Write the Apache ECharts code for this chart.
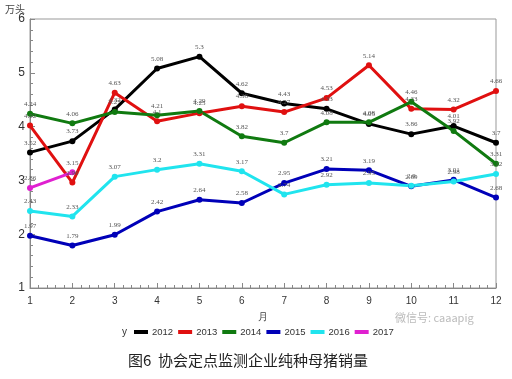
<!DOCTYPE html>
<html><head><meta charset="utf-8">
<script src="https://cdn.jsdelivr.net/npm/echarts@6/dist/echarts.min.js"></script>
<style>html,body{margin:0;padding:0;background:#fff}#c{width:512px;height:379px}</style>
</head><body><div id="c"></div>
<script>
var months = [1,2,3,4,5,6,7,8,9,10,11,12];
var years = ['2012','2013','2014','2015','2016','2017'];
var colors = ['#000000','#e01010','#107a10','#0000b8','#20e4ee','#e020d0'];
var v2012 = [3.52,3.73,4.32,5.08,5.3,4.62,4.43,4.33,4.05,3.86,4.01,3.7];
var v2013 = [4.02,2.96,4.63,4.1,4.25,4.38,4.27,4.53,5.14,4.33,4.32,4.66];
var v2014 = [4.24,4.06,4.27,4.21,4.29,3.82,3.7,4.08,4.08,4.46,3.92,3.31];
var v2015 = [1.97,1.79,1.99,2.42,2.64,2.58,2.95,3.21,3.19,2.89,3.01,2.68];
var v2016 = [2.43,2.33,3.07,3.2,3.31,3.17,2.74,2.92,2.95,2.9,2.98,3.12];
var v2017 = [2.86,3.15];
var all = [v2012,v2013,v2014,v2015,v2016,v2017];

var series = years.map(function(y,i){
  return {
    name:y, type:'line', data: all[i].map(function(v,j){return [months[j],v];}),
    symbol:'circle', symbolSize:6, lineStyle:{width:3,color:colors[i]},
    itemStyle:{color:colors[i]},
    label:{show:true,position:'top',distance:3,fontSize:7,color:'#555',fontFamily:'Liberation Serif, serif'},
    z: 2
  };
});

var chart = echarts.init(document.getElementById('c'));
chart.setOption({
  animation:false,
  backgroundColor:'#fff',
  color:colors,
  grid:{left:30,right:16,top:19,bottom:91,show:true,borderColor:'#999',borderWidth:1},
  xAxis:{type:'value',min:1,max:12,interval:1,name:'月',nameLocation:'middle',nameGap:24,
    nameTextStyle:{fontSize:10,color:'#444'},
    axisLine:{lineStyle:{color:'#888'}},axisTick:{inside:true,length:5,lineStyle:{color:'#888'}},
    minorTick:{show:true,splitNumber:5,length:3,lineStyle:{color:'#888'}},
    axisLabel:{fontSize:10,color:'#333',margin:8,fontFamily:'Liberation Sans, Arial'},
    splitLine:{show:false}},
  yAxis:{type:'value',min:1,max:6,interval:1,
    axisLine:{show:true,lineStyle:{color:'#888'}},axisTick:{show:true,inside:true,length:5,lineStyle:{color:'#888'}},
    minorTick:{show:true,splitNumber:5,length:3,lineStyle:{color:'#888'}},
    axisLabel:{fontSize:12,color:'#333',margin:5,fontFamily:'Liberation Sans, Arial'},
    splitLine:{show:false}},
  legend:{data:years,top:327,left:134,width:380,padding:0,itemWidth:14,itemHeight:4,itemGap:5,icon:'rect',
    textStyle:{fontSize:9.5,color:'#333',fontFamily:'Liberation Sans, Arial',padding:[0,0,0,-1]}},
  graphic:[
    {type:'text',left:122,top:327,style:{text:'y',fontSize:10,fill:'#333',fontFamily:'Liberation Sans, Arial'}},
    {type:'text',left:5,top:4,style:{text:'万头',fontSize:10,fill:'#444',fontFamily:'Noto Sans CJK SC'}},
    {type:'text',left:395,top:312,style:{text:'微信号: caaapig',fontSize:11,fill:'#bbb',fontFamily:'Noto Sans CJK SC'}},
    {type:'text',left:128,top:353,style:{text:'图6  协会定点监测企业纯种母猪销量',fontSize:15,fill:'#222',fontFamily:'Noto Sans CJK SC'}}
  ],
  series:series
});
</script></body></html>
